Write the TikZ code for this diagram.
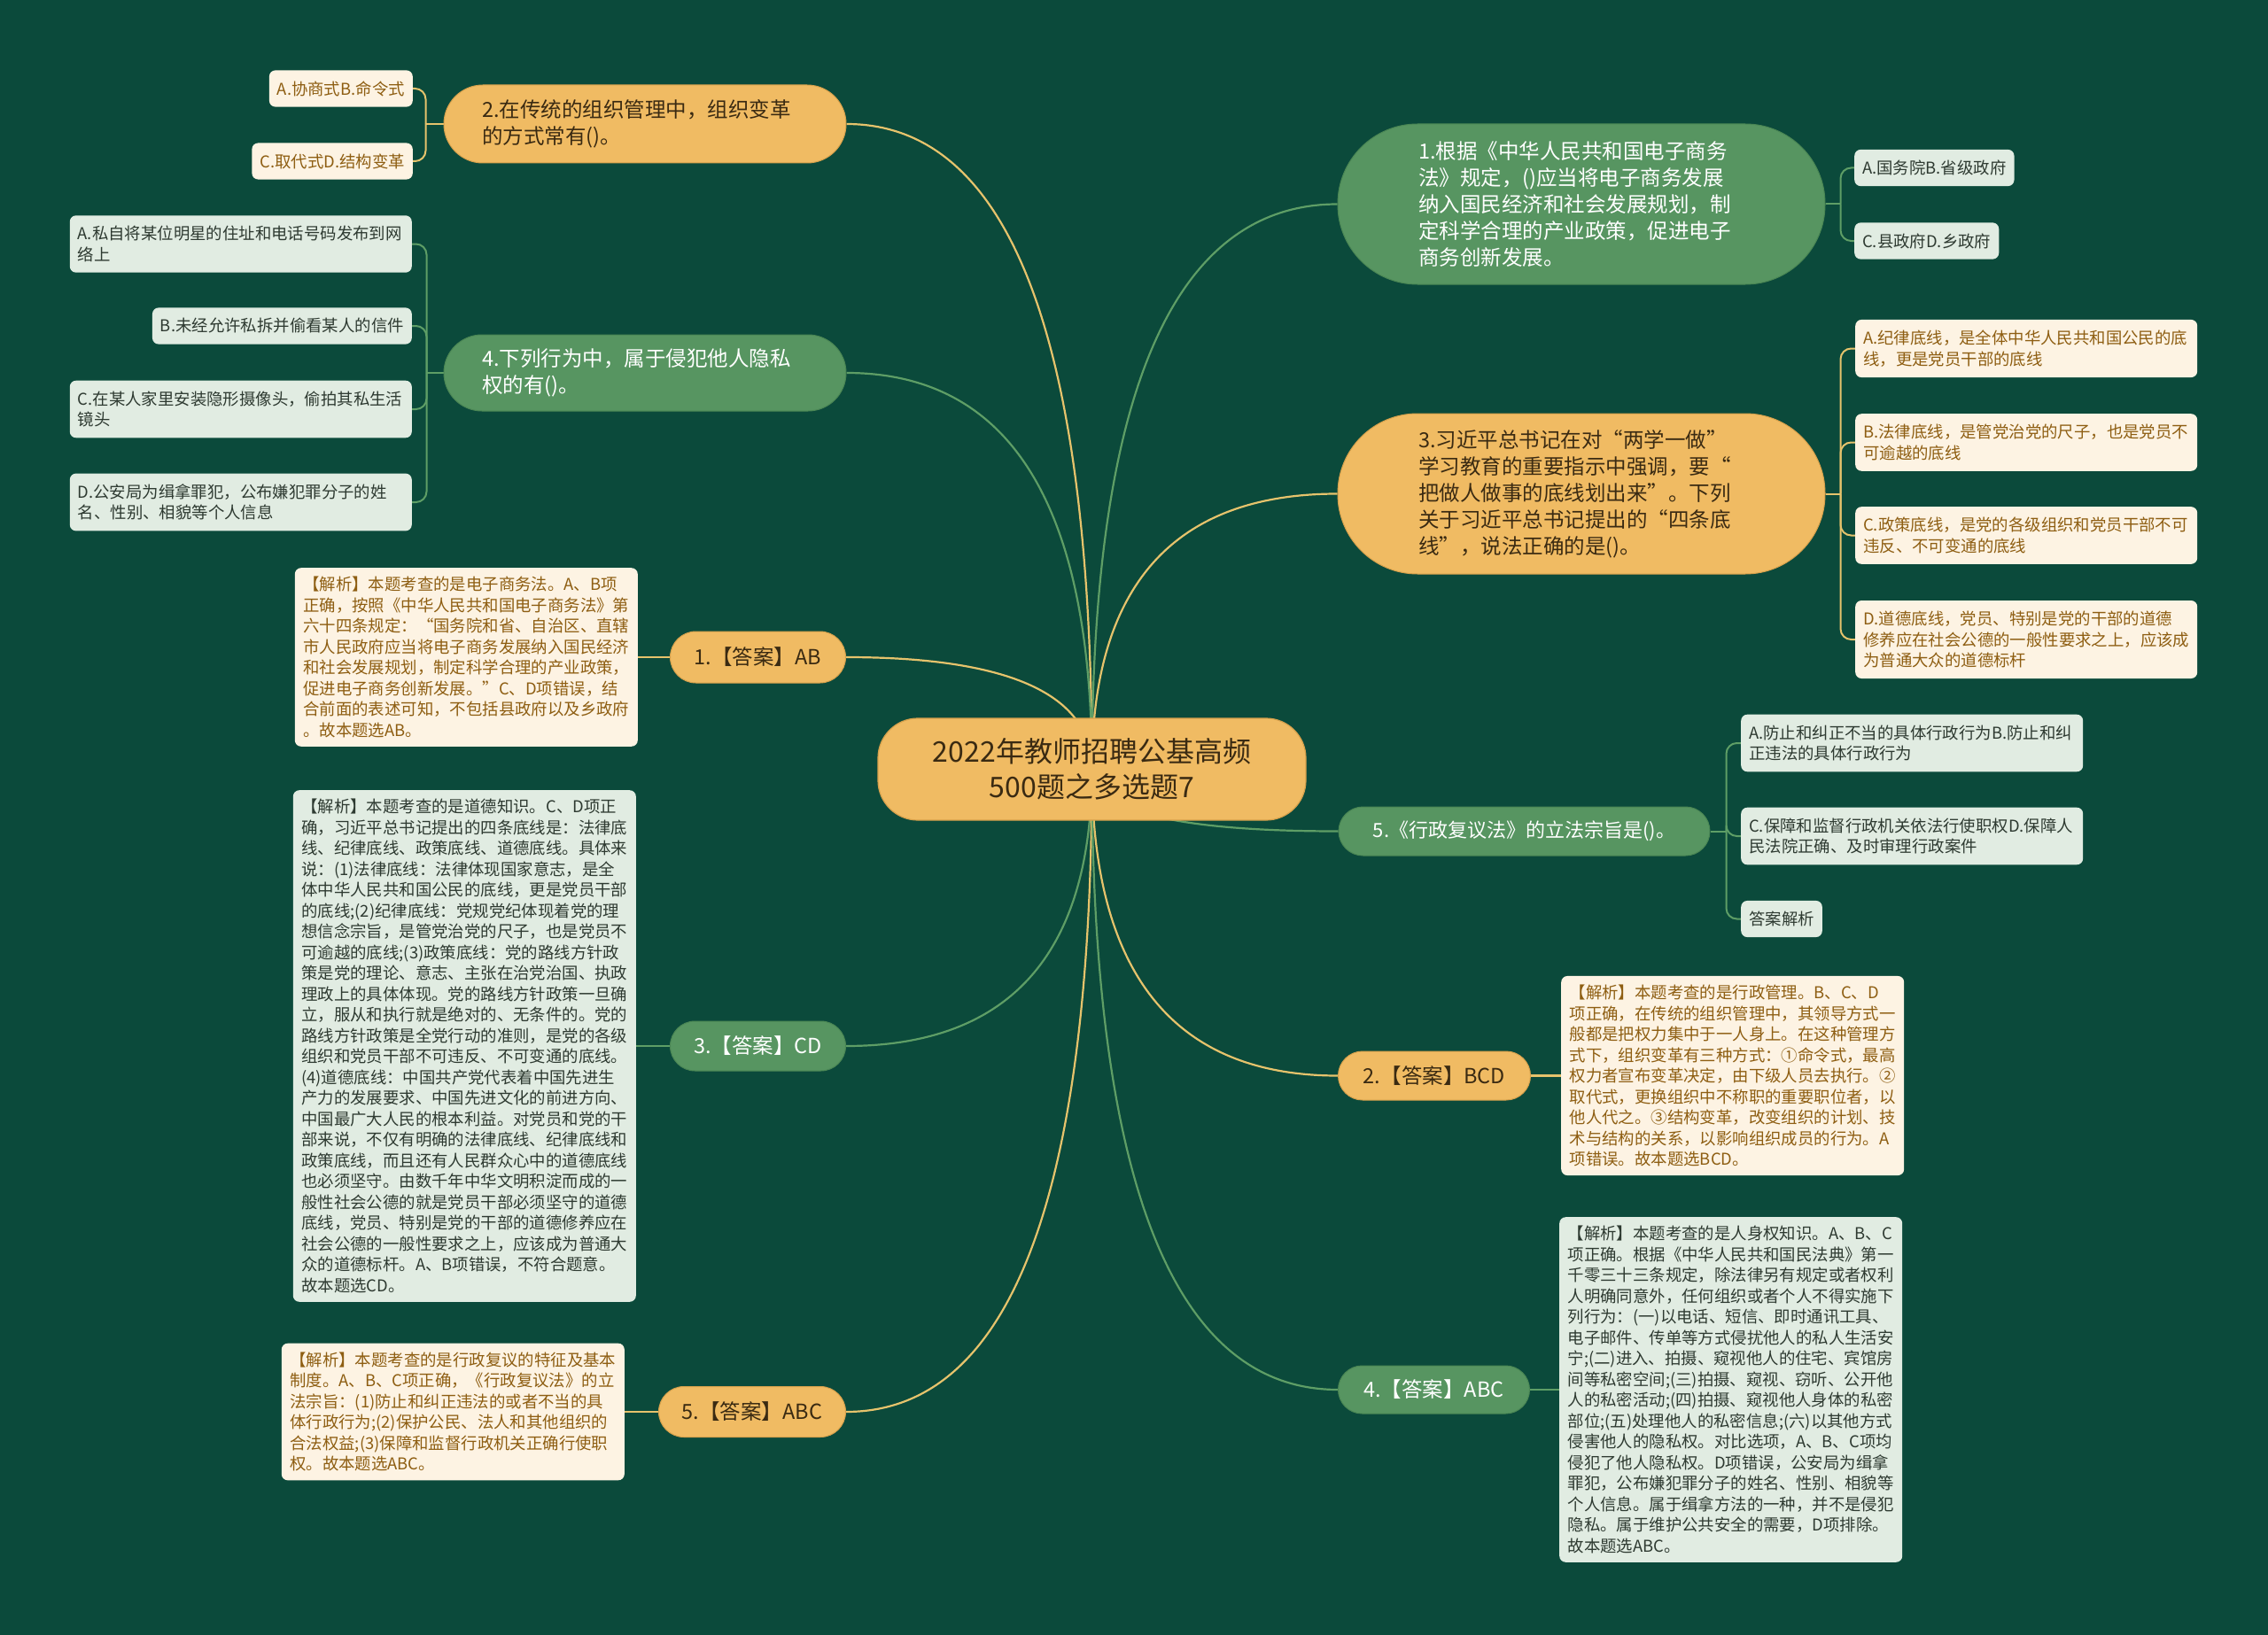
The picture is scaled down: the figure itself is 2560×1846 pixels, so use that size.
\documentclass[tikz,border=0pt]{standalone}
\usepackage{fontspec}
\newfontfamily\cjk{Noto Sans CJK SC}
\usetikzlibrary{calc,backgrounds}
\definecolor{bg}{HTML}{0B4A3B}
\definecolor{org}{HTML}{F0BB63}
\definecolor{orgline}{HTML}{D6A04B}
\definecolor{grn}{HTML}{579561}
\definecolor{grnline}{HTML}{4A8654}
\definecolor{cream}{HTML}{FDF3E3}
\definecolor{creamtxt}{HTML}{8E5E12}
\definecolor{lgrn}{HTML}{E1ECE2}
\definecolor{lgrntxt}{HTML}{2E3A31}
\definecolor{darktxt}{HTML}{3A2A12}
\definecolor{goldc}{HTML}{E6C36C}
\definecolor{grnc}{HTML}{5E9E66}
\tikzset{
  rootn/.style={draw=orgline, line width=1.2pt, fill=org, text=darktxt, align=center,
    font={\cjk\fontsize{32}{40}\selectfont}, minimum width=483pt, minimum height=115pt,
    rounded corners=45pt, inner sep=0pt},
  pillbase/.style={line width=1pt, inner sep=0pt},
  opill/.style={pillbase, draw=orgline, fill=org, text=darktxt},
  gpill/.style={pillbase, draw=grnline, fill=grn, text=white},
  qtext/.style={font={\cjk\fontsize{23.5}{30}\selectfont}, text width=368pt, align=left},
  atext/.style={font={\cjk\fontsize{23.5}{30}\selectfont}, align=center},
  boxbase/.style={rounded corners=7pt, font={\cjk\fontsize{18.4}{23.5}\selectfont},
    align=left, inner xsep=9pt, inner ysep=12pt},
  cbox/.style={boxbase, fill=cream, text=creamtxt},
  gbox/.style={boxbase, fill=lgrn, text=lgrntxt},
  wide/.style={text width=368pt},
  ebox/.style={text width=368pt, inner xsep=9.5pt, inner ysep=10pt},
  conn/.style={line width=2.2pt},
  bconn/.style={line width=2pt, rounded corners=12pt},
}
\newcommand\qconn[3]{\draw[conn,#1] (#2) .. controls ($(#2)!2/3!(#2 |- #3)$) and ($(#3)!2/3!(#2 |- #3)$) .. (#3);}
\newcommand\brk[3]{\draw[bconn,#1] (#2) |- (#3);}
\begin{document}
\begin{tikzpicture}[x=1pt,y=-1pt]
\useasboundingbox (0,0) rectangle (2560,1846);

% root
\node[rootn] (root) at (1232.5,868.5) {2022年教师招聘公基高频\\500题之多选题7};

% left questions
\node[opill, qtext, minimum width=454pt, minimum height=88pt, rounded corners=44pt] (q2) at (728,140)
  {2.在传统的组织管理中，组织变革\\的方式常有()。};
\node[cbox, anchor=east] (c2a) at (466,100) {A.协商式B.命令式};
\node[cbox, anchor=east] (c2b) at (466,182) {C.取代式D.结构变革};

\node[gpill, qtext, minimum width=454pt, minimum height=86pt, rounded corners=43pt] (q4) at (728,421)
  {4.下列行为中，属于侵犯他人隐私\\权的有()。};
\node[gbox, wide, anchor=east] (c4a) at (465,275.5) {A.私自将某位明星的住址和电话号码发布到网\\络上};
\node[gbox, anchor=east] (c4b) at (465,368) {B.未经允许私拆并偷看某人的信件};
\node[gbox, wide, anchor=east] (c4c) at (465,462) {C.在某人家里安装隐形摄像头，偷拍其私生活\\镜头};
\node[gbox, wide, anchor=east] (c4d) at (465,567) {D.公安局为缉拿罪犯，公布嫌犯罪分子的姓\\名、性别、相貌等个人信息};

% left answers
\node[opill, atext, minimum width=198pt, minimum height=58pt, rounded corners=29pt, anchor=east] (a1) at (955,742) {1.【答案】AB};
\node[cbox, ebox, anchor=east] (e1) at (720,742) {【解析】本题考查的是电子商务法。A、B项\\
正确，按照《中华人民共和国电子商务法》第\\
六十四条规定：“国务院和省、自治区、直辖\\
市人民政府应当将电子商务发展纳入国民经济\\
和社会发展规划，制定科学合理的产业政策，\\
促进电子商务创新发展。”C、D项错误，结\\
合前面的表述可知，不包括县政府以及乡政府\\
。故本题选AB。};

\node[gpill, atext, minimum width=198pt, minimum height=56pt, rounded corners=28pt, anchor=east] (a3) at (955,1181) {3.【答案】CD};
\node[gbox, ebox, anchor=east] (e3) at (718,1181) {【解析】本题考查的是道德知识。C、D项正\\
确，习近平总书记提出的四条底线是：法律底\\
线、纪律底线、政策底线、道德底线。具体来\\
说：(1)法律底线：法律体现国家意志，是全\\
体中华人民共和国公民的底线，更是党员干部\\
的底线;(2)纪律底线：党规党纪体现着党的理\\
想信念宗旨，是管党治党的尺子，也是党员不\\
可逾越的底线;(3)政策底线：党的路线方针政\\
策是党的理论、意志、主张在治党治国、执政\\
理政上的具体体现。党的路线方针政策一旦确\\
立，服从和执行就是绝对的、无条件的。党的\\
路线方针政策是全党行动的准则，是党的各级\\
组织和党员干部不可违反、不可变通的底线。\\
(4)道德底线：中国共产党代表着中国先进生\\
产力的发展要求、中国先进文化的前进方向、\\
中国最广大人民的根本利益。对党员和党的干\\
部来说，不仅有明确的法律底线、纪律底线和\\
政策底线，而且还有人民群众心中的道德底线\\
也必须坚守。由数千年中华文明积淀而成的一\\
般性社会公德的就是党员干部必须坚守的道德\\
底线，党员、特别是党的干部的道德修养应在\\
社会公德的一般性要求之上，应该成为普通大\\
众的道德标杆。A、B项错误，不符合题意。\\
故本题选CD。};

\node[opill, atext, minimum width=211pt, minimum height=57pt, rounded corners=28.5pt, anchor=east] (a5) at (955,1594) {5.【答案】ABC};
\node[cbox, ebox, anchor=east] (e5) at (705,1594) {【解析】本题考查的是行政复议的特征及基本\\
制度。A、B、C项正确，《行政复议法》的立\\
法宗旨：(1)防止和纠正违法的或者不当的具\\
体行政行为;(2)保护公民、法人和其他组织的\\
合法权益;(3)保障和监督行政机关正确行使职\\
权。故本题选ABC。};

% right questions
\node[gpill, qtext, minimum width=550pt, minimum height=181pt, rounded corners=90pt] (q1) at (1785,230.5)
  {1.根据《中华人民共和国电子商务\\法》规定，()应当将电子商务发展\\纳入国民经济和社会发展规划，制\\定科学合理的产业政策，促进电子\\商务创新发展。};
\node[gbox, anchor=west] (c1a) at (2093,189.5) {A.国务院B.省级政府};
\node[gbox, anchor=west] (c1b) at (2093,272) {C.县政府D.乡政府};

\node[opill, qtext, minimum width=550pt, minimum height=181pt, rounded corners=90pt] (q3) at (1785,557.5)
  {3.习近平总书记在对“两学一做”\\学习教育的重要指示中强调，要“\\把做人做事的底线划出来”。下列\\关于习近平总书记提出的“四条底\\线”，说法正确的是()。};
\node[cbox, wide, anchor=west] (c3a) at (2094,393.5) {A.纪律底线，是全体中华人民共和国公民的底\\线，更是党员干部的底线};
\node[cbox, wide, anchor=west] (c3b) at (2094,499.5) {B.法律底线，是管党治党的尺子，也是党员不\\可逾越的底线};
\node[cbox, wide, anchor=west] (c3c) at (2094,604.5) {C.政策底线，是党的各级组织和党员干部不可\\违反、不可变通的底线};
\node[cbox, wide, anchor=west] (c3d) at (2094,722) {D.道德底线，党员、特别是党的干部的道德\\修养应在社会公德的一般性要求之上，应该成\\为普通大众的道德标杆};

\node[gpill, font={\cjk\fontsize{22}{28}\selectfont}, align=center, minimum width=419pt, minimum height=55pt, rounded corners=27.5pt] (q5) at (1720.5,938.5)
  {5.《行政复议法》的立法宗旨是()。};
\node[gbox, wide, anchor=west] (c5a) at (1965,839) {A.防止和纠正不当的具体行政行为B.防止和纠\\正违法的具体行政行为};
\node[gbox, wide, anchor=west] (c5b) at (1965,944) {C.保障和监督行政机关依法行使职权D.保障人\\民法院正确、及时审理行政案件};
\node[gbox, anchor=west] (c5c) at (1965,1037.5) {答案解析};

% right answers
\node[opill, atext, minimum width=217pt, minimum height=55pt, rounded corners=27.5pt, anchor=west] (a2) at (1510,1214.5) {2.【答案】BCD};
\node[cbox, ebox, anchor=west] (e2) at (1762,1214.5) {【解析】本题考查的是行政管理。B、C、D\\
项正确，在传统的组织管理中，其领导方式一\\
般都是把权力集中于一人身上。在这种管理方\\
式下，组织变革有三种方式：①命令式，最高\\
权力者宣布变革决定，由下级人员去执行。②\\
取代式，更换组织中不称职的重要职位者，以\\
他人代之。③结构变革，改变组织的计划、技\\
术与结构的关系，以影响组织成员的行为。A\\
项错误。故本题选BCD。};

\node[gpill, atext, minimum width=216pt, minimum height=54pt, rounded corners=27pt, anchor=west] (a4) at (1510,1569) {4.【答案】ABC};
\node[gbox, ebox, anchor=west] (e4) at (1760,1569) {【解析】本题考查的是人身权知识。A、B、C\\
项正确。根据《中华人民共和国民法典》第一\\
千零三十三条规定，除法律另有规定或者权利\\
人明确同意外，任何组织或者个人不得实施下\\
列行为：(一)以电话、短信、即时通讯工具、\\
电子邮件、传单等方式侵扰他人的私人生活安\\
宁;(二)进入、拍摄、窥视他人的住宅、宾馆房\\
间等私密空间;(三)拍摄、窥视、窃听、公开他\\
人的私密活动;(四)拍摄、窥视他人身体的私密\\
部位;(五)处理他人的私密信息;(六)以其他方式\\
侵害他人的隐私权。对比选项，A、B、C项均\\
侵犯了他人隐私权。D项错误，公安局为缉拿\\
罪犯，公布嫌犯罪分子的姓名、性别、相貌等\\
个人信息。属于缉拿方法的一种，并不是侵犯\\
隐私。属于维护公共安全的需要，D项排除。\\
故本题选ABC。};

% junctions
\coordinate (j2) at ($(q2.west)+(-20,0)$);
\coordinate (j4) at ($(q4.west)+(-19,0)$);
\coordinate (j1) at ($(q1.east)+(17,0)$);
\coordinate (j3) at ($(q3.east)+(17,0)$);
\coordinate (j5) at ($(q5.east)+(18,0)$);

\begin{pgfonlayer}{background}
\fill[bg] (0,0) rectangle (2560,1846);
% root connectors
\qconn{goldc}{root.center}{q2.east}
\qconn{grnc}{root.center}{q4.east}
\qconn{goldc}{root.center}{a1.east}
\qconn{grnc}{root.center}{a3.east}
\qconn{goldc}{root.center}{a5.east}
\qconn{grnc}{root.center}{q1.west}
\qconn{goldc}{root.center}{q3.west}
\qconn{grnc}{root.center}{q5.west}
\qconn{goldc}{root.center}{a2.west}
\qconn{grnc}{root.center}{a4.west}
% answer links
\draw[conn,goldc] (a1.west) -- (e1.east);
\draw[conn,grnc] (a3.west) -- (e3.east);
\draw[conn,goldc] (a5.west) -- (e5.east);
\draw[conn,goldc] (a2.east) -- (e2.west);
\draw[conn,grnc] (a4.east) -- (e4.west);
% brackets
\draw[bconn,goldc] (q2.west) -- (j2);
\brk{goldc}{j2}{c2a.east}
\brk{goldc}{j2}{c2b.east}
\draw[bconn,grnc] (q4.west) -- (j4);
\brk{grnc}{j4}{c4a.east}
\brk{grnc}{j4}{c4b.east}
\brk{grnc}{j4}{c4c.east}
\brk{grnc}{j4}{c4d.east}
\draw[bconn,grnc] (q1.east) -- (j1);
\brk{grnc}{j1}{c1a.west}
\brk{grnc}{j1}{c1b.west}
\draw[bconn,goldc] (q3.east) -- (j3);
\brk{goldc}{j3}{c3a.west}
\brk{goldc}{j3}{c3b.west}
\brk{goldc}{j3}{c3c.west}
\brk{goldc}{j3}{c3d.west}
\draw[bconn,grnc] (q5.east) -- (j5);
\brk{grnc}{j5}{c5a.west}
\brk{grnc}{j5}{c5b.west}
\brk{grnc}{j5}{c5c.west}
\end{pgfonlayer}
\end{tikzpicture}
\end{document}
